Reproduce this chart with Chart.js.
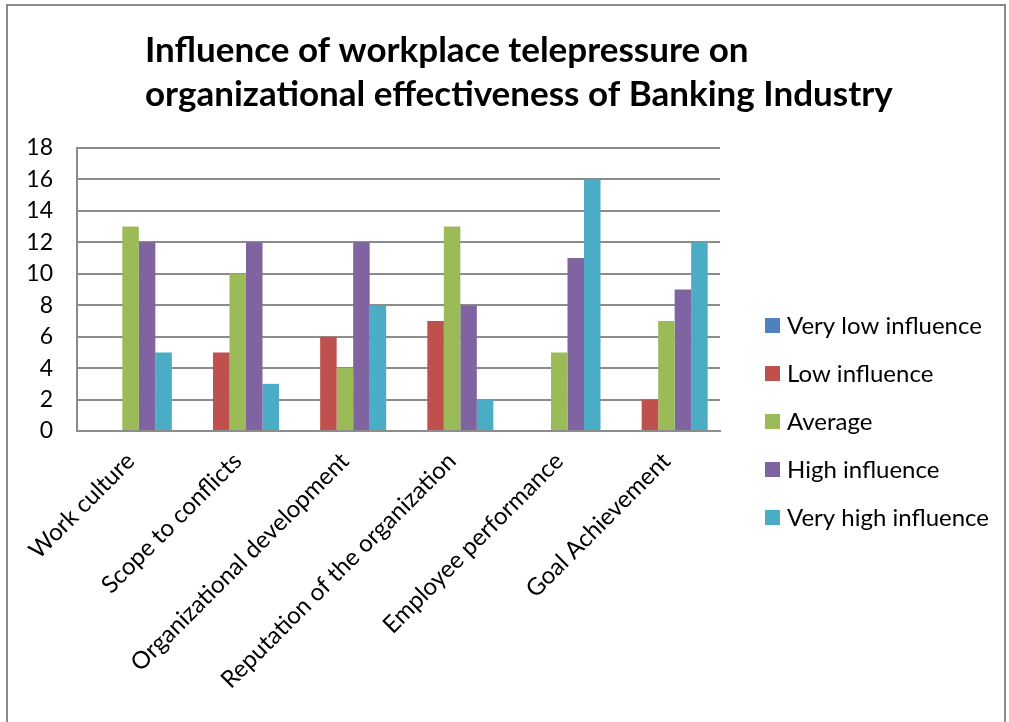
<!DOCTYPE html>
<html>
<head>
<meta charset="utf-8">
<script src="https://cdn.jsdelivr.net/npm/chart.js@4/dist/chart.umd.min.js"></script>
<style>
  html, body { margin: 0; padding: 0; background: #fff; }
  #wrap { width: 1009px; height: 722px; position: relative; }
</style>
</head>
<body>
<div id="wrap"><canvas id="chart" width="1009" height="722"></canvas></div>
<script>
// chart data
const titleLines = ['Influence of workplace telepressure on', 'organizational effectiveness of Banking Industry'];
const categories = ['Work culture', 'Scope to conflicts', 'Organizational development', 'Reputation of the organization', 'Employee performance', 'Goal Achievement'];
const seriesNames = ['Very low influence', 'Low influence', 'Average', 'High influence', 'Very high influence'];
const veryLow = [0, 0, 0, 0, 0, 0];
const low = [0, 5, 6, 7, 0, 2];
const average = [13, 10, 4, 13, 5, 7];
const high = [12, 12, 12, 8, 11, 9];
const veryHigh = [5, 3, 8, 2, 16, 12];
const yTicks = [0, 2, 4, 6, 8, 10, 12, 14, 16, 18];

const colors = ['#4F81BD', '#C0504D', '#9BBB59', '#8064A2', '#4BACC6'];
const seriesValues = [veryLow, low, average, high, veryHigh];
const fontFamily = 'Lato, "Open Sans", sans-serif';
const gridColor = '#8c8c8c';

// outer frame + title + legend drawn on the canvas
const extras = {
  id: 'extras',
  beforeDraw(chart) {
    const ctx = chart.ctx;
    ctx.save();
    ctx.strokeStyle = '#8a8a8a';
    ctx.lineWidth = 2;
    ctx.beginPath();
    ctx.moveTo(7, 722);
    ctx.lineTo(7, 5);
    ctx.lineTo(1005, 5);
    ctx.lineTo(1005, 722);
    ctx.stroke();
    ctx.restore();
  },
  afterDraw(chart) {
    const ctx = chart.ctx;
    ctx.save();
    ctx.fillStyle = '#000';
    ctx.textBaseline = 'alphabetic';
    ctx.textAlign = 'left';
    ctx.font = 'bold 35px ' + fontFamily;
    ctx.fillText(titleLines[0], 145, 62);
    ctx.fillText(titleLines[1], 145, 106);

    // legend
    ctx.font = '24px ' + fontFamily;
    ctx.textBaseline = 'middle';
    chart.data.datasets.forEach((ds, i) => {
      const cy = 325 + i * 48;
      ctx.fillStyle = ds.backgroundColor;
      ctx.fillRect(765, cy - 7, 15, 15);
      ctx.fillStyle = '#000';
      ctx.fillText(ds.label, 787, cy + 1);
    });
    ctx.restore();
  }
};

new Chart(document.getElementById('chart'), {
  type: 'bar',
  data: {
    labels: categories,
    datasets: seriesNames.map((name, i) => ({
      label: name,
      data: seriesValues[i],
      backgroundColor: colors[i],
      borderWidth: 0,
      barPercentage: 1,
      categoryPercentage: 0.77
    }))
  },
  options: {
    responsive: false,
    animation: false,
    layout: { padding: { top: 148, left: 25, right: 289, bottom: 0 } },
    plugins: {
      legend: { display: false },
      title: { display: false },
      tooltip: { enabled: false }
    },
    scales: {
      x: {
        grid: { display: false, drawTicks: false },
        border: { display: true, color: gridColor, width: 2 },
        ticks: {
          color: '#000',
          font: { family: fontFamily, size: 24 },
          minRotation: 45,
          maxRotation: 45,
          padding: 16,
          autoSkip: false
        },
        afterFit(scale) { scale.height = 722 - 431; }
      },
      y: {
        min: 0,
        max: 18,
        afterBuildTicks(scale) { scale.ticks = yTicks.map(v => ({ value: v })); },
        grid: { color: gridColor, lineWidth: 2, drawTicks: false },
        border: { display: true, color: gridColor, width: 2 },
        ticks: {
          color: '#000',
          font: { family: fontFamily, size: 23 },
          padding: 24
        },
        afterFit(scale) { scale.width = 77 - 25; }
      }
    }
  },
  plugins: [extras]
});
</script>
</body>
</html>
